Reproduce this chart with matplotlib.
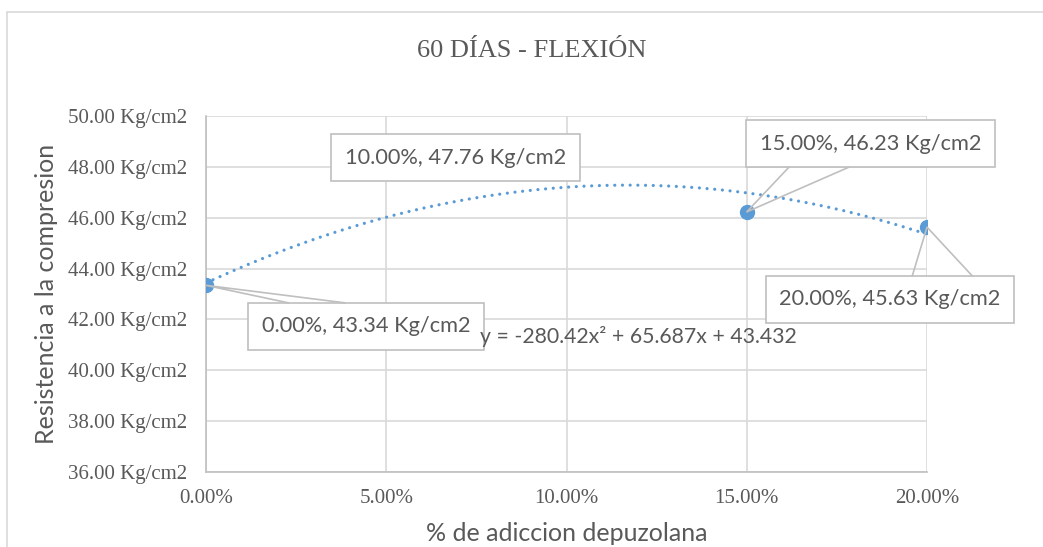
import numpy as np
import matplotlib
matplotlib.use("Agg")
import matplotlib.pyplot as plt
from matplotlib.lines import Line2D
from matplotlib.patches import Rectangle

# data
adicion = [0.00, 0.10, 0.15, 0.20]
resistencia = [43.34, 47.76, 46.23, 45.63]
etiquetas = ["0.00%, 43.34 Kg/cm2", "10.00%, 47.76 Kg/cm2",
             "15.00%, 46.23 Kg/cm2", "20.00%, 45.63 Kg/cm2"]
ecuacion = "y = -280.42x² + 65.687x + 43.432"
x_ticks = [0.00, 0.05, 0.10, 0.15, 0.20]
y_ticks = [36, 38, 40, 42, 44, 46, 48, 50]

azul = "#5B9BD5"
gris_txt = "#595959"
gris_grid = "#D9D9D9"
gris_borde = "#BFBFBF"

W, H, DPI = 1043, 547, 100
fig = plt.figure(figsize=(W / DPI, H / DPI), dpi=DPI)
ax = fig.add_axes([206 / W, 1 - 472 / H, (927 - 206) / W, (472 - 116) / H])

# outer chart border
fig.add_artist(Rectangle((7 / W, -0.1), 1.2, 1 - 12 / H + 0.1, transform=fig.transFigure,
                         fill=False, ec=gris_grid, lw=1.2))

# polynomial trendline (order 2)
coef = np.polyfit(adicion, resistencia, 2)
xs = np.linspace(min(adicion), max(adicion), 200)
ax.plot(xs, np.polyval(coef, xs), color=azul, lw=2.3,
        linestyle=(0, (0.01, 2.4)), dash_capstyle="round", zorder=3)
ax.plot(adicion, resistencia, "o", color=azul, ms=10, zorder=4)

ax.set_xlim(0, 0.20)
ax.set_ylim(36, 50)
ax.set_xticks(x_ticks)
ax.set_yticks(y_ticks)
ax.set_xticklabels(["{:.2f}%".format(v * 100) for v in x_ticks])
ax.set_yticklabels(["{:.2f} Kg/cm2".format(v) for v in y_ticks])
ax.tick_params(length=0, colors=gris_txt, labelsize=15)
ax.tick_params(axis="y", pad=13.5)
ax.tick_params(axis="x", pad=12)
for lbl in ax.get_xticklabels() + ax.get_yticklabels():
    lbl.set_fontfamily("Liberation Serif")
ax.grid(True, color=gris_grid, lw=1.2)
ax.set_axisbelow(True)
for s in ["top", "right"]:
    ax.spines[s].set_visible(False)
for s in ["left", "bottom"]:
    ax.spines[s].set_color(gris_borde)
    ax.spines[s].set_linewidth(1.2)

ax.set_xlabel("% de adiccion depuzolana", fontsize=18, color=gris_txt,
              family="Lato", labelpad=10.5)
ax.set_ylabel("Resistencia a la compresion", fontsize=18, color=gris_txt,
              family="Lato", labelpad=7)
fig.text(532 / W, 1 - 51 / H, "60 DÍAS - FLEXIÓN", ha="center", va="center",
         fontsize=19, color=gris_txt, family="Liberation Serif")

# equation of the trendline (drawn over the labels, as in the original)
ax.annotate(ecuacion, xy=(adicion[1], resistencia[1]), xytext=(-86, -164),
            textcoords="offset pixels", ha="left", va="center",
            fontsize=15.3, color=gris_txt, family="Lato", zorder=7)

# data labels (offsets in pixels from each point)
offsets = [(160, -41), (-111, 15), (124, 68), (-37, -72)]
con_guia = [True, False, True, True]
anns = []
for x, y, t, off in zip(adicion, resistencia, etiquetas, offsets):
    a = ax.annotate(t, xy=(x, y), xytext=off, textcoords="offset pixels",
                    ha="center", va="center", fontsize=15.7, color=gris_txt,
                    family="Lato", zorder=6, annotation_clip=False,
                    bbox=dict(boxstyle="square,pad=0.62", fc="white",
                              ec=gris_borde, lw=1.2))
    anns.append(a)

# callout leader lines like the spreadsheet ones
fig.canvas.draw()
r = fig.canvas.get_renderer()
inv = fig.transFigure.inverted()
for a, x, y, g in zip(anns, adicion, resistencia, con_guia):
    if not g:
        continue
    bb = a.get_bbox_patch().get_window_extent(r)
    px, py = ax.transData.transform((x, y))
    ey = bb.y1 if py > bb.y1 else bb.y0
    if px < (bb.x0 + bb.x1) / 2:
        f1, f2 = 0.17, 0.41
    else:
        f1, f2 = 0.59, 0.83
    b1 = bb.x0 + f1 * bb.width
    b2 = bb.x0 + f2 * bb.width
    pts = inv.transform([(b1, ey), (px, py), (b2, ey)])
    fig.add_artist(Line2D(pts[:, 0], pts[:, 1], color=gris_borde, lw=1.2,
                          transform=fig.transFigure, zorder=1))

fig.savefig("out.png", dpi=DPI)
